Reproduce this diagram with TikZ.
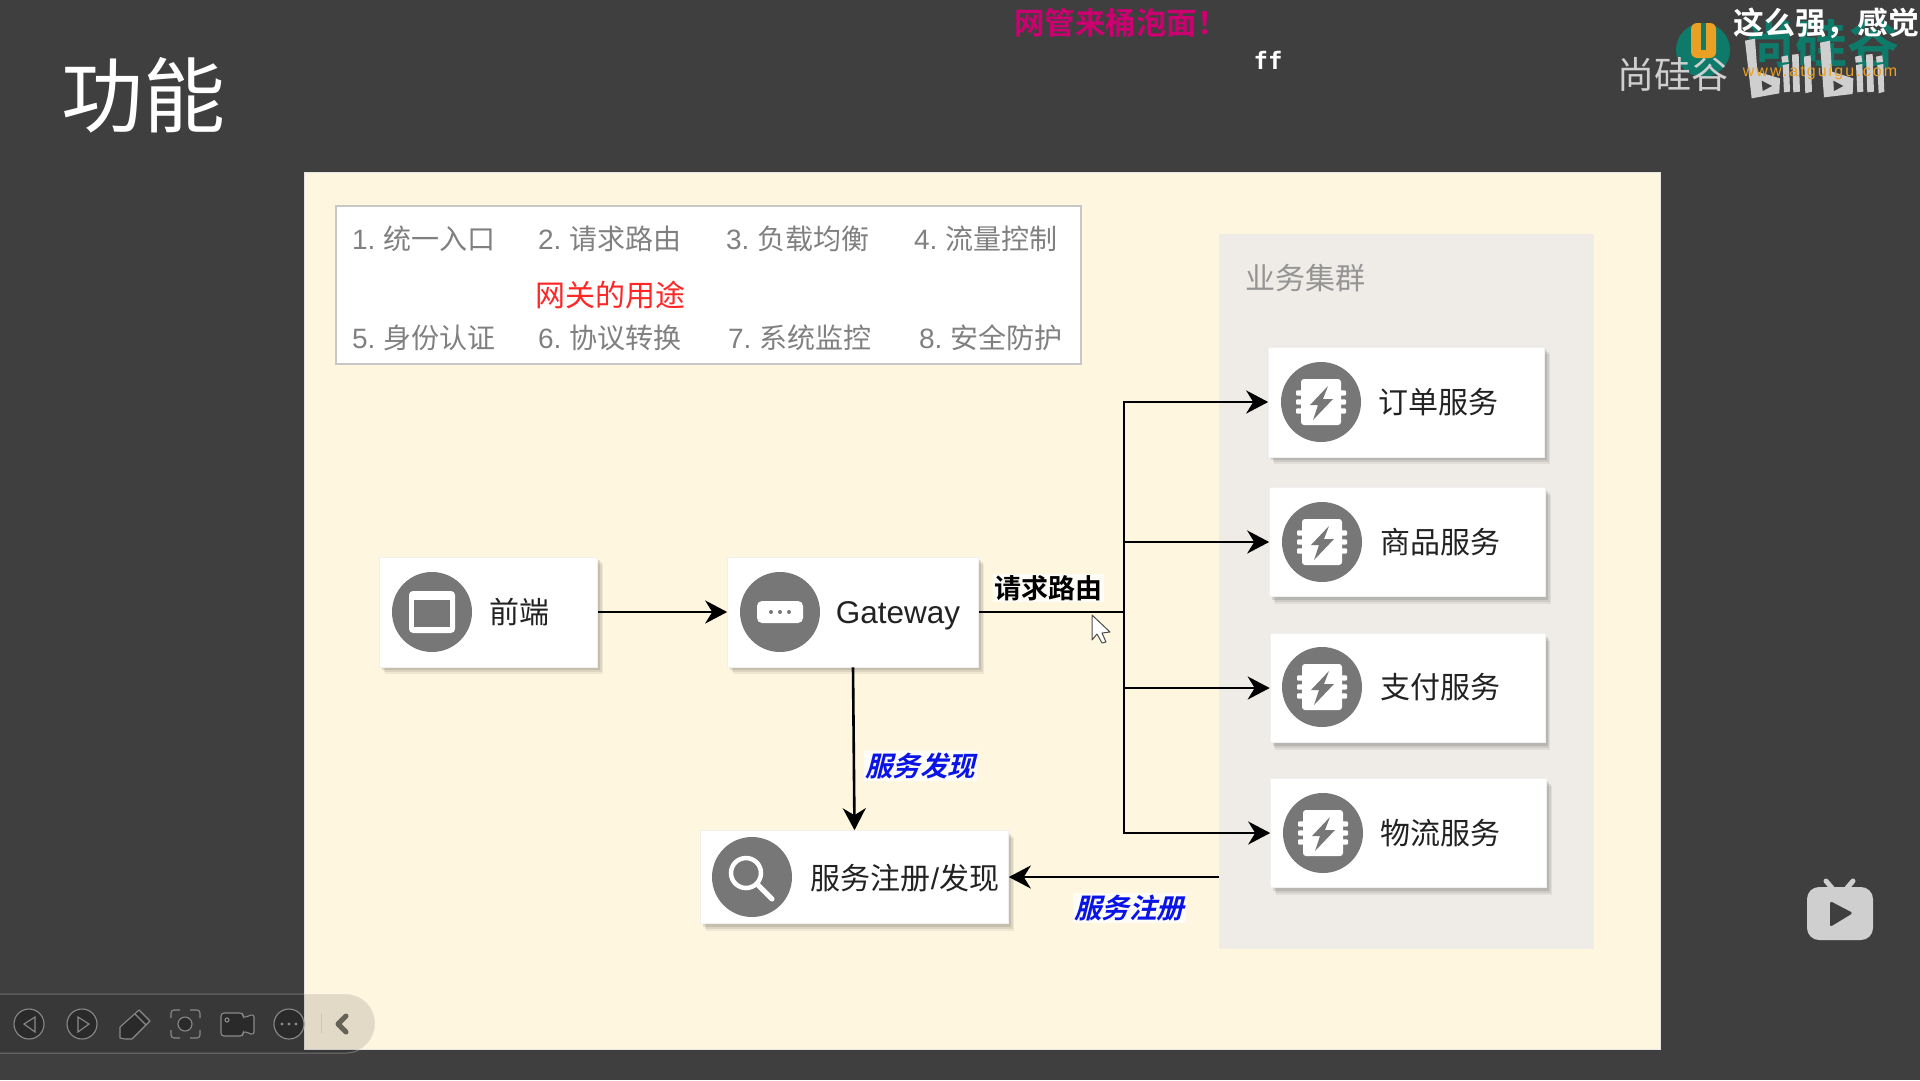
\documentclass[tikz,border=0pt]{standalone}
\usepackage{fontspec}
\usetikzlibrary{arrows.meta,shadows}
\setmainfont{Noto Sans CJK SC}
\newfontfamily\latfont{Liberation Sans}
\newfontfamily\urlfont[LetterSpace=13]{Liberation Sans}
\newfontfamily\cjkbold{Noto Sans CJK SC Bold}
\newfontfamily\cjkslant[FakeSlant=0.25]{Noto Sans CJK SC Bold}
\newfontfamily\ffont{DejaVu Sans Mono}
\newcommand\fz[1]{\fontsize{#1}{#1}\selectfont}
\definecolor{pagebg}{HTML}{3F3F3F}
\definecolor{slidebg}{HTML}{FEF6DF}
\definecolor{clusterbg}{HTML}{EFEBE6}
\definecolor{discgray}{HTML}{777777}
\definecolor{itemgray}{HTML}{808080}
\definecolor{ink}{HTML}{222222}
\definecolor{bluelab}{HTML}{0A14E6}
\definecolor{teal1}{HTML}{0E7A69}
\definecolor{orange1}{HTML}{E9A024}
\definecolor{logogray}{HTML}{CFCFCF}
\definecolor{iconfill}{HTML}{2A2A2A}
\definecolor{iconline}{HTML}{8A8A8A}
\definecolor{dmpink}{HTML}{CC0070}
\tikzset{
  box/.style={draw=black!6,line width=0.6pt,fill=white,inner sep=0pt,
    drop shadow={shadow xshift=5pt,shadow yshift=-7pt,fill=black,opacity=.06},
    drop shadow={shadow xshift=4pt,shadow yshift=-5pt,fill=black,opacity=.08},
    drop shadow={shadow xshift=2.5pt,shadow yshift=-3pt,fill=black,opacity=.1}},
  disc/.style={circle,fill=discgray,minimum size=80pt,inner sep=0pt},
  itemtext/.style={text=itemgray,inner sep=0pt,font=\fz{28}},
  boxtext/.style={text=ink,inner sep=0pt,font=\fz{30}},
  bluetext/.style={text=bluelab,fill=white,fill opacity=.75,text opacity=1,inner sep=1.5pt,font=\cjkslant\fz{27.5}},
  conn/.style={line width=2.6pt,black},
  arr/.style={conn,-{Stealth[length=22pt,width=23pt,inset=7pt]}},
  tool/.style={draw=iconline,line width=1.1pt,fill=iconfill},
  toolb/.style={draw=iconline,line width=1.1pt},
  chipicon/.pic={
    \fill[white,rounded corners=3pt] (-20,-23) rectangle (20,23);
    \foreach \yy in {-9,0,9}{\fill[white,rounded corners=1pt] (-25,\yy-2.6) rectangle (25,\yy+2.6);}
    \fill[discgray] (7,-16) -- (-11,3) -- (-3,3) -- (-8,18) -- (12,-3) -- (2,-3) -- cycle;
  },
  windowicon/.pic={
    \fill[white,rounded corners=4pt] (-23,-21) rectangle (23,21);
    \fill[discgray] (-18,-12) rectangle (18,15);
  },
  gatewayicon/.pic={
    \fill[white,rounded corners=5pt] (-23,-11) rectangle (23,11);
    \foreach \xx in {-9,0,9}{\fill[discgray] (\xx,0) circle (2pt);}
  },
  searchicon/.pic={
    \draw[white,line width=4.5pt] (-6,-4) circle (15pt);
    \draw[white,line width=5pt,line cap=round] (5,7) -- (20,22);
  },
}
\begin{document}
\begin{tikzpicture}[x=1pt,y=-1pt]
\useasboundingbox (0,0) rectangle (1920,1080);
\fill[pagebg] (0,0) rectangle (1920,1080);

% slide
\node[fill=slidebg,draw=black!10,line width=1pt,inner sep=0pt,minimum width=1356pt,minimum height=877pt] (slide) at (982,610.5) {};

% title
\node[text=white,inner sep=0pt,font=\fz{82}] (title) at (143,95) {功能};

% watermark
\fill[teal1] (1703,50) circle (27pt);
\node[text=teal1,inner sep=0pt,font=\cjkbold\fz{52}] (wmtop) at (1821,44) {尚硅谷};
\fill[orange1,rounded corners=6pt] (1691,23) rectangle (1716,58);
\fill[teal1] (1701,23) rectangle (1706,50);
\node[text=logogray,inner sep=0pt,font=\fz{37}] (wmname) at (1673,74) {尚硅谷};
\begin{scope}[xshift=1640pt,yshift=-10pt,x=0.3333pt,y=-0.3333pt]
  \fill[logogray] (315,92) -- (345,86) -- (352,185) -- (420,205) -- (418,250) -- (335,265) -- cycle;
  \fill[pagebg] (365,212) -- (396,228) -- (368,243) -- cycle;
  \fill[logogray] (424,140) -- (443,136) -- (446,156) -- (426,158) -- cycle;
  \fill[logogray] (428,165) -- (447,162) -- (450,245) -- (432,247) -- cycle;
  \fill[logogray] (456,134) -- (476,132) -- (480,245) -- (460,247) -- cycle;
  \fill[logogray] (492,140) -- (512,136) -- (516,245) -- (496,250) -- cycle;
  \fill[logogray] (540,98) -- (570,92) -- (576,185) -- (640,205) -- (638,252) -- (552,262) -- cycle;
  \fill[pagebg] (580,212) -- (610,228) -- (582,243) -- cycle;
  \fill[logogray] (645,140) -- (664,136) -- (667,156) -- (647,158) -- cycle;
  \fill[logogray] (648,165) -- (667,162) -- (670,245) -- (652,247) -- cycle;
  \fill[logogray] (678,134) -- (698,132) -- (702,245) -- (682,247) -- cycle;
  \fill[logogray] (708,140) -- (727,136) -- (729,156) -- (710,158) -- cycle;
  \fill[logogray] (712,165) -- (730,162) -- (733,245) -- (716,250) -- cycle;
\end{scope}
\node[text=orange1,inner sep=0pt,font=\urlfont\fz{16}] (wmurl) at (1820,72) {www.atguigu.com};

% danmaku
\node[text=white,inner sep=0pt,font=\cjkbold\fz{31}] (dm2) at (1826,23) {这么强，感觉};
\node[text=white,inner sep=0pt,font=\ffont\bfseries\fz{24}] (dm3) at (1268,60) {ff};
\node[text=dmpink,inner sep=0pt,font=\cjkbold\fz{30.5}] (dm1) at (1121,23) {网管来桶泡面！};

% uses box
\node[draw=black!22,line width=2pt,fill=white,inner sep=0pt,minimum width=745pt,minimum height=158pt] (uses) at (708,285) {};
\node[itemtext] (i1) at (424,239) {{\latfont 1.} 统一入口};
\node[itemtext] (i2) at (610,239) {{\latfont 2.} 请求路由};
\node[itemtext] (i3) at (798,239) {{\latfont 3.} 负载均衡};
\node[itemtext] (i4) at (986,239) {{\latfont 4.} 流量控制};
\node[itemtext] (i5) at (424,338) {{\latfont 5.} 身份认证};
\node[itemtext] (i6) at (610,338) {{\latfont 6.} 协议转换};
\node[itemtext] (i7) at (800,338) {{\latfont 7.} 系统监控};
\node[itemtext] (i8) at (991,338) {{\latfont 8.} 安全防护};
\node[text=red!85!white,inner sep=0pt,font=\fz{30}] (usetitle) at (610,295) {网关的用途};

% cluster
\node[fill=clusterbg,inner sep=0pt,minimum width=375pt,minimum height=715pt] (cluster) at (1406.5,591.5) {};
\node[text=black!42,inner sep=0pt,font=\fz{30}] (clabel) at (1305,278) {业务集群};

% boxes
\node[box,minimum width=218pt,minimum height=110pt] (fe) at (488.5,612) {};
\node[box,minimum width=251pt,minimum height=110pt] (gw) at (853,612) {};
\node[box,minimum width=308pt,minimum height=93pt] (reg) at (854.5,877) {};
\node[box,minimum width=276pt,minimum height=110pt] (s1) at (1406.5,402) {};
\node[box,minimum width=276pt,minimum height=109pt] (s2) at (1407.5,542) {};
\node[box,minimum width=275pt,minimum height=109pt] (s3) at (1407.5,688) {};
\node[box,minimum width=276pt,minimum height=109pt] (s4) at (1408.5,833) {};

% discs and icons
\node[disc] (d1) at (432,612) {};
\pic at (d1) {windowicon};
\node[disc] (d2) at (780,612) {};
\pic at (d2) {gatewayicon};
\node[disc] (d3) at (752,877) {};
\pic at (d3) {searchicon};
\node[disc] (d4) at (1321,402) {};
\pic at (d4) {chipicon};
\node[disc] (d5) at (1322,542) {};
\pic at (d5) {chipicon};
\node[disc] (d6) at (1322,687) {};
\pic at (d6) {chipicon};
\node[disc] (d7) at (1323,833) {};
\pic at (d7) {chipicon};

% box labels
\node[boxtext] (t1) at (519,612) {前端};
\node[text=ink,inner sep=0pt,font=\latfont\fz{31.5}] (t2) at (898,616) {Gateway};
\node[boxtext] (t3) at (905,878) {服务注册{\latfont /}发现};
\node[boxtext] (t4) at (1438,402) {订单服务};
\node[boxtext] (t5) at (1440,542) {商品服务};
\node[boxtext] (t6) at (1440,687) {支付服务};
\node[boxtext] (t7) at (1440,833) {物流服务};

% connectors
\coordinate (tj) at (1124,612);
\draw[arr] (fe.east) -- (gw.west);
\draw[conn] (gw.east) -- (tj);
\draw[arr] (tj) |- (s1.west);
\draw[arr] (tj) |- (s2.west);
\draw[arr] (tj) |- (s3.west);
\draw[arr] (tj) |- (s4.west);
\draw[arr] (gw.south) -- (reg.north);
\draw[arr] (cluster.west |- reg.east) -- (reg.east);

% connector labels
\node[text=black,fill=white,fill opacity=.75,text opacity=1,inner sep=1.5pt,font=\cjkbold\fz{27}] (route) at (1048,588) {请求路由};
\node[bluetext] (find) at (920,766) {服务发现};
\node[bluetext] (regl) at (1129,908) {服务注册};

% cursor
\draw[fill=white,draw=black!70,line width=1pt,line join=round] (1092,615) -- (1110,632) -- (1102,633) -- (1106,642) -- (1102,643) -- (1097,634) -- (1092,640) -- cycle;

% TV icon
\fill[logogray,rounded corners=12pt] (1807,887) rectangle (1873,940);
\draw[logogray,line width=5pt,line cap=round] (1832,888) -- (1826,881);
\draw[logogray,line width=5pt,line cap=round] (1847,888) -- (1853,881);
\fill[pagebg,rounded corners=2.5pt] (1830,901) -- (1853,913) -- (1830,927) -- cycle;

% toolbar
\fill[black,opacity=.11,rounded corners=29pt] (-40,994) rectangle (375,1053);
\draw[white,opacity=.28,line width=1pt,rounded corners=29pt] (-40,994) rectangle (375,1053);
\draw[tool] (29,1024) circle (15pt);
\draw[toolb] (35,1017) -- (24,1024) -- (35,1032) -- cycle;
\draw[tool] (82,1024) circle (15pt);
\draw[toolb] (78,1017) -- (89,1024) -- (78,1032) -- cycle;
\draw[tool,line join=round] (120,1038) -- (120,1027) -- (139,1010) -- (150,1021) -- (132,1039) -- (125,1039) -- cycle;
\draw[toolb] (135,1014) -- (146,1025);
\draw[tool] (185,1024) circle (7pt);
\draw[toolb,rounded corners=3pt] (171,1018) -- (171,1010) -- (180,1010);
\draw[toolb,rounded corners=3pt] (190,1010) -- (200,1010) -- (200,1018);
\draw[toolb,rounded corners=3pt] (171,1030) -- (171,1038) -- (180,1038);
\draw[toolb,rounded corners=3pt] (190,1038) -- (200,1038) -- (200,1030);
\draw[tool,rounded corners=3pt] (221,1013) -- (243,1013) -- (243,1018) -- (254,1014) -- (254,1035) -- (243,1031) -- (243,1036) -- (221,1036) -- cycle;
\draw[toolb] (227,1020) circle (2pt);
\draw[tool] (289,1024) circle (15pt);
\foreach \xx in {282,289,296}{\fill[iconline] (\xx,1024) circle (1.7pt);}
\draw[black!20!slidebg,line width=1pt] (321,1013) -- (321,1033);
\draw[black!60!slidebg,line width=5pt,line join=round,line cap=round] (346,1016) -- (338,1024) -- (346,1032);
\end{tikzpicture}
\end{document}
